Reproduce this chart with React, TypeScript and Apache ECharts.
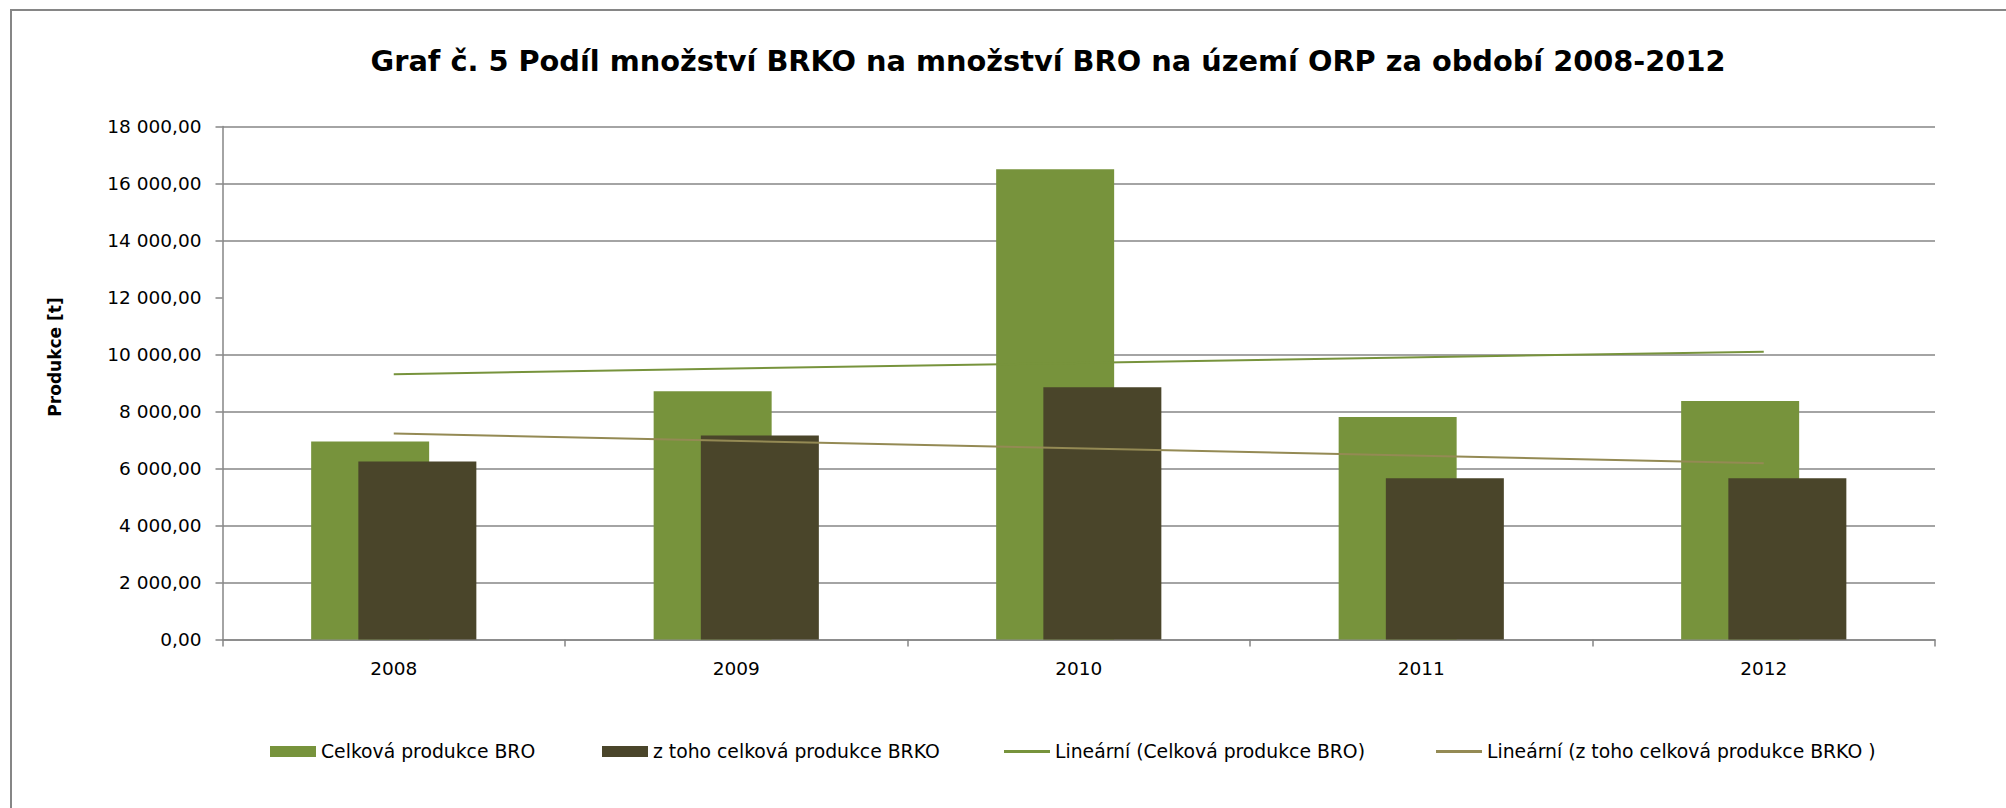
import React, { useEffect, useRef } from "react";
import * as echarts from "echarts";

const categories = ["2008", "2009", "2010", "2011", "2012"];
const broValues = [6950, 8710, 16500, 7810, 8370];
const brkoValues = [6250, 7160, 8850, 5660, 5660];
// linear trend lines (Excel "Lineární"), read at the first and last year
const broTrend = [9310, null, null, null, 10100];
const brkoTrend = [7230, null, null, null, 6185];

const seriesNames = [
  "Celková produkce BRO",
  "z toho celková produkce BRKO",
  "Lineární (Celková produkce BRO)",
  "Lineární (z toho celková produkce BRKO )",
];

const titleText = "Graf č. 5 Podíl množství BRKO na množství BRO na území ORP za období 2008-2012";
const yAxisTitle = "Produkce [t]";

const GREEN = "#77933C";
const DARK = "#4A452A";
const TAN = "#948A54";
const GRID = "#868686";
const FONT = "DejaVu Sans";

function fmt(v: number): string {
  const s = v.toFixed(2);
  const [int, dec] = s.split(".");
  const withSp = int.replace(/\B(?=(\d{3})+(?!\d))/g, " ");
  return withSp + "," + dec;
}

export default function App() {
  const ref = useRef<HTMLDivElement>(null);
  useEffect(() => {
    if (!ref.current) return;
    const chart = echarts.init(ref.current, null, { renderer: "svg" });
    const legendBase = {
      orient: "horizontal",
      top: 742,
      padding: 0,
      itemWidth: 46,
      textStyle: { fontFamily: FONT, fontSize: 18.8, color: "#000" },
      selectedMode: false,
    };
    // the reference picture shows no gridline at 12 000
    const splitColors = [GRID, GRID, GRID, GRID, GRID, GRID, "#ffffff", GRID, GRID, GRID];
    chart.setOption({
      animation: false,
      backgroundColor: "#fff",
      title: {
        text: titleText,
        left: 1043,
        textAlign: "center",
        top: 41,
        textStyle: { fontFamily: FONT, fontWeight: "bold", fontSize: 28.8, color: "#000" },
      },
      legend: [
        { ...legendBase, left: 270, icon: "rect", itemHeight: 11, data: [seriesNames[0]] },
        { ...legendBase, left: 602, icon: "rect", itemHeight: 11, data: [seriesNames[1]] },
        { ...legendBase, left: 1004, icon: "rect", itemHeight: 3, data: [seriesNames[2]] },
        { ...legendBase, left: 1436, icon: "rect", itemHeight: 3, data: [seriesNames[3]] },
      ],
      grid: { left: 222.5, right: 71, top: 126.5, bottom: 168.5, containLabel: false },
      xAxis: {
        type: "category",
        data: categories,
        axisLine: { lineStyle: { color: GRID, width: 1.5 } },
        axisTick: { show: true, length: 7, lineStyle: { color: GRID, width: 1.5 } },
        axisLabel: { fontFamily: FONT, fontSize: 18.5, color: "#000", margin: 19 },
      },
      yAxis: {
        type: "value",
        min: 0,
        max: 18000,
        interval: 2000,
        axisLine: { show: true, lineStyle: { color: GRID, width: 1.5 } },
        axisTick: { show: true, length: 7, lineStyle: { color: GRID, width: 1.5 } },
        axisLabel: {
          fontFamily: FONT,
          fontSize: 18.5,
          color: "#000",
          margin: 21,
          formatter: (v: number) => fmt(v),
        },
        splitLine: { show: true, lineStyle: { color: splitColors, width: 1.5 } },
      },
      graphic: [
        {
          type: "rect",
          shape: { x: 11, y: 10, width: 2100, height: 900 },
          style: { fill: "none", stroke: GRID, lineWidth: 2 },
          silent: true,
        },
        {
          type: "text",
          x: 55,
          y: 357,
          rotation: Math.PI / 2,
          style: {
            text: yAxisTitle,
            fontFamily: FONT,
            fontWeight: "bold",
            fontSize: 17,
            fill: "#000",
            align: "center",
            verticalAlign: "middle",
          },
        },
      ],
      series: [
        {
          name: seriesNames[0],
          type: "bar",
          data: broValues,
          barWidth: 118,
          barGap: "-60%",
          itemStyle: { color: GREEN },
        },
        {
          name: seriesNames[1],
          type: "bar",
          data: brkoValues,
          barWidth: 118,
          barGap: "-60%",
          itemStyle: { color: DARK },
        },
        {
          name: seriesNames[2],
          type: "line",
          data: broTrend,
          connectNulls: true,
          symbol: "none",
          color: GREEN,
          lineStyle: { color: GREEN, width: 2 },
          itemStyle: { color: GREEN },
        },
        {
          name: seriesNames[3],
          type: "line",
          data: brkoTrend,
          connectNulls: true,
          symbol: "none",
          color: TAN,
          lineStyle: { color: TAN, width: 2 },
          itemStyle: { color: TAN },
        },
      ],
    });
    return () => chart.dispose();
  }, []);
  return (
    <div
      ref={ref}
      style={{ position: "fixed", left: 0, top: 0, width: 2006, height: 808 }}
    />
  );
}
